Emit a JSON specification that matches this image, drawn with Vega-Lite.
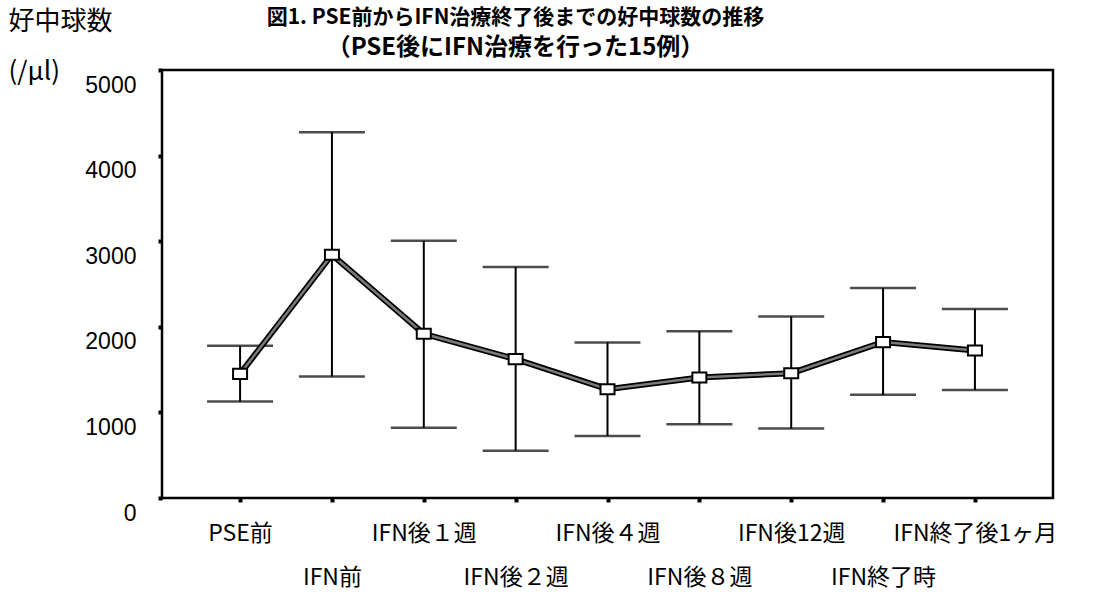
{
  "$schema": "https://vega.github.io/schema/vega-lite/v6.json",
  "width": 891,
  "height": 428,
  "autosize": "none",
  "padding": {"left": 162, "top": 70, "right": 61, "bottom": 100},
  "background": "white",
  "config": {
    "view": {"stroke": "black", "strokeWidth": 2.5},
    "font": "Liberation Sans"
  },
  "title": {
    "text": "図1. PSE前からIFN治療終了後までの好中球数の推移",
    "subtitle": "（PSE後にIFN治療を行った15例）",
    "font": "Noto Sans CJK JP",
    "fontWeight": "bold",
    "fontSize": 21,
    "subtitleFont": "Noto Sans CJK JP",
    "subtitleFontWeight": "bold",
    "subtitleFontSize": 24,
    "subtitlePadding": 8,
    "color": "black",
    "subtitleColor": "black",
    "anchor": "middle",
    "dx": -92,
    "offset": -52
  },
  "data": {
    "values": [
      {"time": "PSE前", "mean": 1450, "lower": 1127, "upper": 1778},
      {"time": "IFN前", "mean": 2842, "lower": 1419, "upper": 4273},
      {"time": "IFN後１週", "mean": 1918, "lower": 822, "upper": 3006},
      {"time": "IFN後２週", "mean": 1622, "lower": 553, "upper": 2698},
      {"time": "IFN後４週", "mean": 1271, "lower": 725, "upper": 1817},
      {"time": "IFN後８週", "mean": 1407, "lower": 862, "upper": 1949},
      {"time": "IFN後12週", "mean": 1458, "lower": 811, "upper": 2121},
      {"time": "IFN終了時", "mean": 1821, "lower": 1205, "upper": 2452},
      {"time": "IFN終了後1ヶ月", "mean": 1723, "lower": 1263, "upper": 2207}
    ]
  },
  "encoding": {
    "x": {
      "field": "time",
      "type": "nominal",
      "sort": null,
      "scale": {"type": "point", "padding": 0.85},
      "axis": {
        "title": null,
        "labelAngle": 0,
        "labelFont": "Noto Sans CJK JP",
        "labelFontSize": 23,
        "labelColor": "black",
        "labelBaseline": "top",
        "labelOverlap": false,
        "labelPadding": {"condition": {"test": "indexof(['IFN前','IFN後２週','IFN後８週','IFN終了時'], datum.value) >= 0", "value": 64}, "value": 20},
        "domain": false,
        "ticks": true,
        "tickSize": 4,
        "tickWidth": 4,
        "tickColor": "black",
        "grid": false
      }
    }
  },
  "layer": [
    {
      "mark": {"type": "rule", "color": "black", "strokeWidth": 2},
      "encoding": {
        "y": {
          "field": "lower",
          "type": "quantitative",
          "scale": {"domain": [0, 5000], "nice": false},
          "axis": {
            "values": [0, 1000, 2000, 3000, 4000, 5000],
            "format": "d",
            "grid": false,
            "domain": false,
            "tickSize": 4,
            "tickWidth": 4,
            "tickColor": "black",
            "labelFontSize": 23,
            "labelColor": "black",
            "labelPadding": 22,
            "labelOffset": 15,
            "title": ["好中球数", "(/μl)"],
            "titleFont": "Noto Sans CJK JP",
            "titleFontSize": 26,
            "titleFontWeight": "normal",
            "titleColor": "black",
            "titleAngle": 0,
            "titleAlign": "left",
            "titleBaseline": "top",
            "titleLineHeight": 50,
            "titleX": -154,
            "titleY": -62
          }
        },
        "y2": {"field": "upper"}
      }
    },
    {
      "mark": {"type": "tick", "color": "black", "thickness": 2.5},
      "encoding": {
        "y": {"field": "upper", "type": "quantitative"},
        "size": {"value": 66}
      }
    },
    {
      "mark": {"type": "tick", "color": "black", "thickness": 2.5},
      "encoding": {
        "y": {"field": "lower", "type": "quantitative"},
        "size": {"value": 66}
      }
    },
    {
      "mark": {"type": "line", "color": "black", "strokeWidth": 6},
      "encoding": {"y": {"field": "mean", "type": "quantitative"}}
    },
    {
      "mark": {"type": "line", "color": "#7a7a7a", "strokeWidth": 2.5},
      "encoding": {"y": {"field": "mean", "type": "quantitative"}}
    },
    {
      "mark": {"type": "point", "shape": "M-1,-0.72H1V0.72H-1Z", "filled": true, "fill": "white", "stroke": "black", "strokeWidth": 2, "opacity": 1},
      "encoding": {
        "y": {"field": "mean", "type": "quantitative"},
        "size": {"value": 196}
      }
    }
  ]
}
